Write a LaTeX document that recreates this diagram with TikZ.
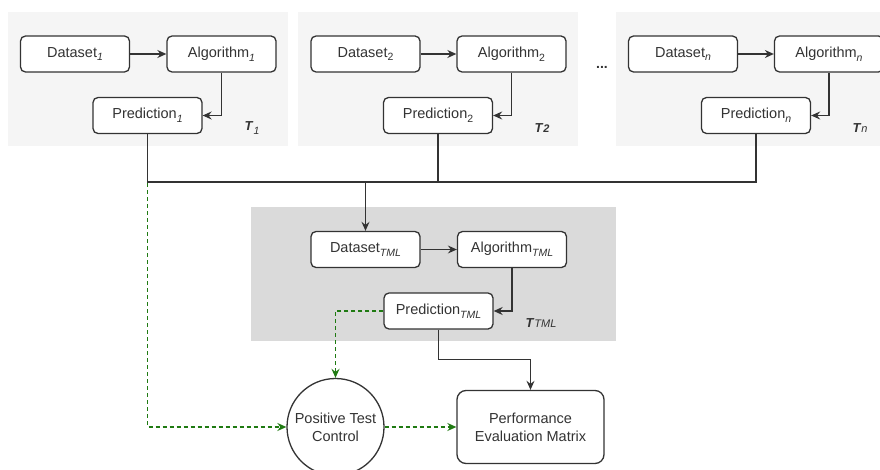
\documentclass[tikz,border=0pt]{standalone}
\usepackage{fontspec}
\setmainfont{Liberation Sans}
\usetikzlibrary{arrows.meta}
\definecolor{boxline}{HTML}{333333}
\definecolor{paneA}{HTML}{F5F5F5}
\definecolor{paneB}{HTML}{DADADA}
\definecolor{testgreen}{HTML}{1F7A12}
\newcommand{\lowi}[1]{\raisebox{-0.5ex}{\fontsize{10.5}{11}\selectfont\itshape #1}}
\newcommand{\lowu}[1]{\raisebox{-0.5ex}{\fontsize{10.5}{11}\selectfont #1}}
\newcommand{\taskT}{\textbf{\textit{T}}}
\tikzset{
	stage/.style={draw=boxline, fill=white, rounded corners=5pt, line width=1.3pt,
		minimum width=109pt, minimum height=36pt, text=boxline,
		font=\fontsize{14.5}{18}\selectfont},
	tlabel/.style={text=boxline, font=\fontsize{13}{13}\selectfont},
	flow/.style={draw=boxline, line width=1.3pt, -{Stealth[length=9pt,width=8pt,inset=3pt]}},
	link/.style={draw=boxline, line width=1.3pt},
	check/.style={draw=testgreen, line width=1.4pt, dash pattern=on 4pt off 3pt,
		-{Stealth[length=9pt,width=8pt,inset=3pt]}}
}

\begin{document}
\begin{tikzpicture}[x=1pt,y=-1pt]
	\useasboundingbox (0,0) rectangle (880,470);
	\fill[white] (0,0) rectangle (880,470);
	\clip (0,0) rectangle (880,470);

	\fill[paneA] (8,12) rectangle (288,146);
	\fill[paneA] (298,12) rectangle (578,146);
	\fill[paneA] (616,12) rectangle (896,146);
	\fill[paneB] (251,207) rectangle (616,341);

	\node[stage] (d1) at (75,54) {Dataset\lowi{1}};
	\node[stage] (a1) at (221.5,54) {Algorithm\lowi{1}};
	\node[stage] (p1) at (147.5,115.5) {Prediction\lowi{1}};
	\node[tlabel] (t1) at (252,128) {\taskT\lowi{1}};

	\node[stage] (d2) at (365.5,54) {Dataset\lowu{2}};
	\node[stage] (a2) at (511.5,54) {Algorithm\lowu{2}};
	\node[stage] (p2) at (438,115.5) {Prediction\lowu{2}};
	\node[tlabel] (t2) at (542,128) {\taskT{\fontsize{11}{11}\selectfont\bfseries\itshape 2}};

	\node[text=boxline, font=\fontsize{14}{14}\selectfont\bfseries] (dots) at (602,67) {...};

	\node[stage] (dn) at (683,54) {Dataset\lowi{n}};
	\node[stage] (an) at (829,54) {Algorithm\lowi{n}};
	\node[stage] (pn) at (756,115.5) {Prediction\lowi{n}};
	\node[tlabel] (tn) at (860,128) {\taskT{\fontsize{11}{11}\selectfont\itshape n}};

	\node[stage] (dt) at (365.5,249.5) {Dataset\lowi{TML}};
	\node[stage] (at) at (512,249.5) {Algorithm\lowi{TML}};
	\node[stage] (pt) at (438.5,311) {Prediction\lowi{TML}};
	\node[tlabel] (tt) at (541,323) {\taskT{\fontsize{11}{11}\selectfont\itshape TML}};

	\node[stage, circle, minimum size=97pt, align=center, rounded corners=0pt] (ptc) at (335.5,427) {Positive Test\\Control};
	\node[stage, minimum width=147pt, minimum height=73pt, rounded corners=9pt, align=center] (pem) at (530.5,427) {Performance\\Evaluation Matrix};

	\coordinate (bus) at (0,182);

	\draw[check] (p1.south) |- (ptc.west);
	\draw[check] (pt.west) -| (ptc.north);
	\draw[check] (ptc.east) -- (pem.west);

	\draw[flow] (d1) -- (a1);
	\draw[flow] (a1.south) |- (p1.east);
	\draw[flow] (d2) -- (a2);
	\draw[flow] (a2.south) |- (p2.east);
	\draw[flow] (dn) -- (an);
	\draw[flow] (an.south) |- (pn.east);
	\draw[flow] (dt) -- (at);
	\draw[flow] (at.south) |- (pt.east);

	\draw[link] (p1.south) -- (p1.south |- bus) -- (pn.south |- bus) -- (pn.south);
	\draw[link] (p2.south) -- (p2.south |- bus);
	\draw[flow] (dt.north |- bus) -- (dt.north);
	\draw[flow] (pt.south) -- ++(0,30) -| (pem.north);
\end{tikzpicture}
\end{document}
